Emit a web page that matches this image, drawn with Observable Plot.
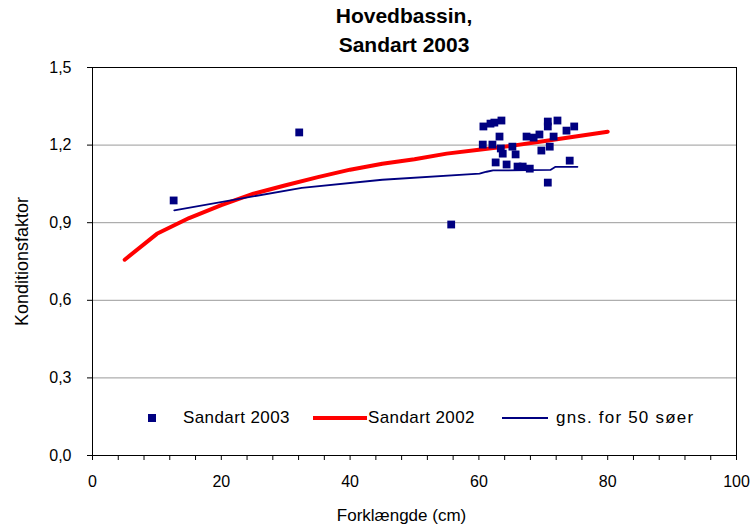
<!DOCTYPE html>
<html>
<head>
<meta charset="utf-8">
<script src="https://cdn.jsdelivr.net/npm/d3@7"></script>
<script src="https://cdn.jsdelivr.net/npm/@observablehq/plot@0.6"></script>
<style>
  html, body { margin: 0; padding: 0; background: #fff; }
  #wrap { position: relative; width: 750px; height: 528px; font-family: "Liberation Sans", Arial, sans-serif; }
  #title { position: absolute; left: 82px; width: 644px; top: 1px; text-align: center; font-weight: bold; font-size: 21px; line-height: 29px; color: #000; }
  .lg { position: absolute; font-size: 17px; color: #000; line-height: 20px; top: 408px; letter-spacing: 0.4px; }
  .sw { position: absolute; }
</style>
</head>
<body>
<div id="wrap">
  <div id="chart"></div>
  <div id="title">Hovedbassin,<br>Sandart 2003</div>
  <div class="sw" style="left:148px;top:414px;width:8px;height:8px;background:#000080"></div>
  <div class="lg" style="left:183px">Sandart 2003</div>
  <div class="sw" style="left:313px;top:416px;width:54px;height:4px;background:#ff0000"></div>
  <div class="lg" style="left:368px">Sandart 2002</div>
  <div class="sw" style="left:502px;top:417px;width:46px;height:2px;background:#000080"></div>
  <div class="lg" style="left:556px;letter-spacing:1.2px">gns. for 50 søer</div>
</div>
<script>
// Sandart 2003 (points)
const len2003 = [12.6, 32.1, 55.7, 60.7, 61.8, 62.4, 63.5, 63.2, 60.6, 62.1, 63.4, 65.2, 63.7, 65.7, 62.6, 64.3, 66.0, 66.8, 67.9, 67.4, 68.5, 69.4, 70.7, 70.7, 72.2, 73.6, 74.8, 71.6, 71.0, 69.7, 74.1, 70.7];
const kf2003  = [0.986, 1.249, 0.893, 1.272, 1.283, 1.287, 1.295, 1.233, 1.202, 1.202, 1.187, 1.194, 1.167, 1.164, 1.133, 1.125, 1.117, 1.117, 1.109, 1.233, 1.229, 1.241, 1.291, 1.272, 1.295, 1.256, 1.272, 1.233, 1.194, 1.179, 1.140, 1.055];
// Sandart 2002 (red line)
const len2002 = [5, 10, 15, 20, 25, 30, 35, 40, 45, 50, 55, 60, 65, 70, 75, 80];
const kf2002  = [0.757, 0.857, 0.918, 0.968, 1.012, 1.045, 1.076, 1.105, 1.128, 1.145, 1.167, 1.182, 1.197, 1.215, 1.233, 1.252];
// gns. for 50 søer (blue line)
const lenAvg = [12.7, 32.5, 45, 60.1, 61.2, 62.2, 71.1, 71.9, 75.3];
const kfAvg  = [0.948, 1.035, 1.066, 1.090, 1.097, 1.102, 1.104, 1.116, 1.116];
// axes
const yTicks = [0, 0.3, 0.6, 0.9, 1.2, 1.5];
const gridY = [0.3, 0.6, 0.9, 1.2];
const xTicks = [0, 20, 40, 60, 80, 100];
const xMinor = d3.range(0, 101, 4);
const yLabel = "Konditionsfaktor";
const xLabel = "Forklængde (cm)";

const pts = len2003.map((x, i) => ({x, y: kf2003[i]}));
const red = len2002.map((x, i) => ({x, y: kf2002[i]}));
const avg = lenAvg.map((x, i) => ({x, y: kfAvg[i]}));

const fmt = d => d.toFixed(1).replace(".", ",");

const chart = Plot.plot({
  width: 750,
  height: 528,
  marginLeft: 92,
  marginRight: 14,
  marginTop: 67,
  marginBottom: 73,
  style: {fontFamily: "Liberation Sans, Arial, sans-serif", fontSize: "16px", background: "#fff", color: "#000"},
  x: {domain: [0, 100]},
  y: {domain: [0, 1.5]},
  marks: [
    Plot.ruleY(gridY, {stroke: "#9a9a9a", strokeWidth: 1}),
    Plot.frame({stroke: "#000", strokeWidth: 1}),
    Plot.axisY({ticks: yTicks, tickFormat: fmt, tickSize: 5, tickPadding: 16, label: null, fontSize: 16}),
    Plot.axisX({ticks: xMinor, tickFormat: () => "", tickSize: 5, label: null}),
    Plot.axisX({ticks: xTicks, tickSize: 0, tickPadding: 20, label: null, fontSize: 16}),
    Plot.line(red, {x: "x", y: "y", stroke: "#ff0000", strokeWidth: 4}),
    Plot.line(avg, {x: "x", y: "y", stroke: "#000080", strokeWidth: 1.8}),
    Plot.dot(pts, {x: "x", y: "y", symbol: "square", r: 4.4, fill: "#000080", stroke: "none"}),
    Plot.text([yLabel], {frameAnchor: "left", textAnchor: "middle", dx: -70, rotate: -90, fontSize: 18, fill: "#000"}),
    Plot.text([xLabel], {frameAnchor: "bottom", textAnchor: "middle", dx: -13, dy: 60, fontSize: 17, fill: "#000", lineAnchor: "middle", letterSpacing: "0.5px"})
  ]
});
document.getElementById("chart").appendChild(chart);
</script>
</body>
</html>
